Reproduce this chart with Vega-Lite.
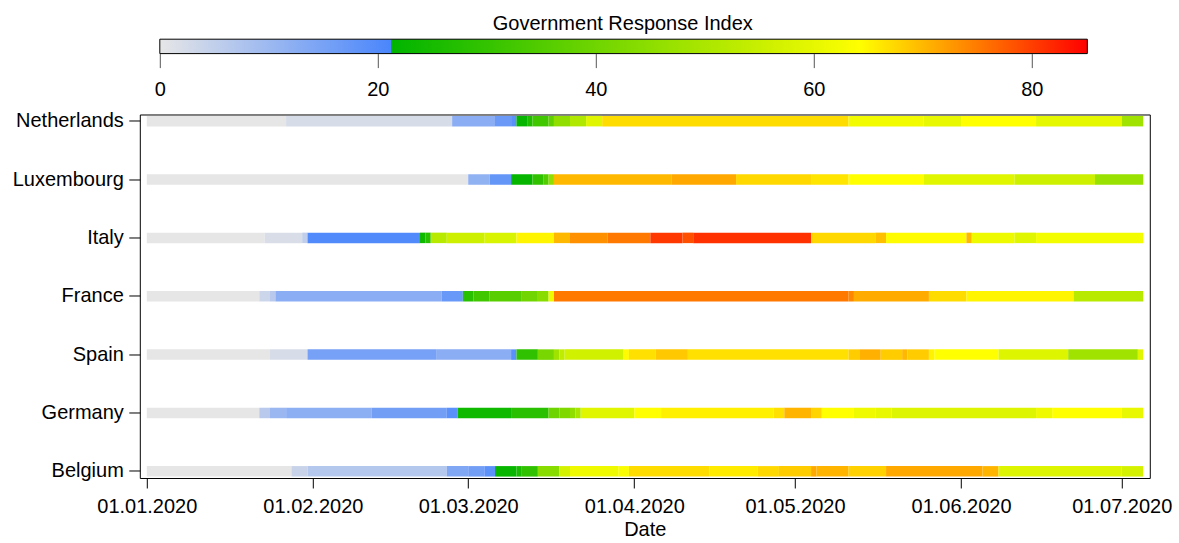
{
  "$schema": "https://vega.github.io/schema/vega-lite/v6.json",
  "padding": {"left": 10.8, "top": 13.2, "right": 5, "bottom": 5},
  "bounds": "flush",
  "spacing": 60.3,
  "config": {
    "font": "Liberation Sans",
    "view": {"stroke": "black", "strokeWidth": 1},
    "axis": {"labelColor": "black", "titleColor": "black", "tickColor": "black", "grid": false, "domain": false}
  },
  "vconcat": [
    {
      "width": 1010,
      "height": 14.4,
      "view": {"stroke": null},
      "title": {
        "text": "Government Response Index",
        "fontSize": 20,
        "fontWeight": "normal",
        "color": "black",
        "anchor": "middle",
        "dx": -22,
        "offset": 4.8
      },
      "data": {"values": [{"lo": 0, "hi": 85.1}]},
      "mark": {
        "type": "rect",
        "stroke": "black",
        "strokeWidth": 1,
        "fill": {
          "gradient": "linear",
          "x1": 0, "y1": 0, "x2": 1, "y2": 0,
          "stops": [
            {"offset": 0, "color": "#e6e6e6"},
            {"offset": 0.2491, "color": "#4a86fc"},
            {"offset": 0.2491, "color": "#00b400"},
            {"offset": 0.7544, "color": "#ffff00"},
            {"offset": 1, "color": "#ff0000"}
          ]
        }
      },
      "encoding": {
        "x": {
          "field": "lo",
          "type": "quantitative",
          "scale": {"domain": [-1.835, 90.83], "nice": false, "zero": false},
          "axis": {
            "title": null,
            "values": [0, 20, 40, 60, 80],
            "tickSize": 14,
            "tickColor": "#555555",
            "labelPadding": 11.8,
            "labelFontSize": 20,
            "labelFlush": false,
            "labelOverlap": false
          }
        },
        "x2": {"field": "hi"}
      }
    },
    {
      "width": 1010,
      "height": 363.5,
      "data": {
        "format": {"parse": {"s": "utc:'%Y-%m-%d'", "e": "utc:'%Y-%m-%d'"}},
        "values": [
          {"c": "Netherlands", "s": "2020-01-01", "e": "2020-01-27", "v": 0},
          {"c": "Netherlands", "s": "2020-01-27", "e": "2020-02-27", "v": 2.2},
          {"c": "Netherlands", "s": "2020-02-27", "e": "2020-03-06", "v": 12.5},
          {"c": "Netherlands", "s": "2020-03-06", "e": "2020-03-09", "v": 16.9},
          {"c": "Netherlands", "s": "2020-03-09", "e": "2020-03-10", "v": 19},
          {"c": "Netherlands", "s": "2020-03-10", "e": "2020-03-12", "v": 22},
          {"c": "Netherlands", "s": "2020-03-12", "e": "2020-03-13", "v": 26.6},
          {"c": "Netherlands", "s": "2020-03-13", "e": "2020-03-16", "v": 32},
          {"c": "Netherlands", "s": "2020-03-16", "e": "2020-03-17", "v": 37.4},
          {"c": "Netherlands", "s": "2020-03-17", "e": "2020-03-20", "v": 45.5},
          {"c": "Netherlands", "s": "2020-03-20", "e": "2020-03-23", "v": 50.9},
          {"c": "Netherlands", "s": "2020-03-23", "e": "2020-03-26", "v": 59},
          {"c": "Netherlands", "s": "2020-03-26", "e": "2020-05-11", "v": 67.1},
          {"c": "Netherlands", "s": "2020-05-11", "e": "2020-05-25", "v": 62},
          {"c": "Netherlands", "s": "2020-05-25", "e": "2020-06-01", "v": 60.3},
          {"c": "Netherlands", "s": "2020-06-01", "e": "2020-06-15", "v": 64.2},
          {"c": "Netherlands", "s": "2020-06-15", "e": "2020-07-01", "v": 60},
          {"c": "Netherlands", "s": "2020-07-01", "e": "2020-07-05", "v": 48.2},

          {"c": "Luxembourg", "s": "2020-01-01", "e": "2020-03-01", "v": 0},
          {"c": "Luxembourg", "s": "2020-03-01", "e": "2020-03-05", "v": 11.7},
          {"c": "Luxembourg", "s": "2020-03-05", "e": "2020-03-09", "v": 17.7},
          {"c": "Luxembourg", "s": "2020-03-09", "e": "2020-03-13", "v": 22},
          {"c": "Luxembourg", "s": "2020-03-13", "e": "2020-03-15", "v": 29.3},
          {"c": "Luxembourg", "s": "2020-03-15", "e": "2020-03-16", "v": 34.7},
          {"c": "Luxembourg", "s": "2020-03-16", "e": "2020-03-17", "v": 45.5},
          {"c": "Luxembourg", "s": "2020-03-17", "e": "2020-04-08", "v": 70},
          {"c": "Luxembourg", "s": "2020-04-08", "e": "2020-04-20", "v": 71.3},
          {"c": "Luxembourg", "s": "2020-04-20", "e": "2020-05-04", "v": 67.4},
          {"c": "Luxembourg", "s": "2020-05-04", "e": "2020-05-11", "v": 66.3},
          {"c": "Luxembourg", "s": "2020-05-11", "e": "2020-05-25", "v": 64.2},
          {"c": "Luxembourg", "s": "2020-05-25", "e": "2020-06-11", "v": 59},
          {"c": "Luxembourg", "s": "2020-06-11", "e": "2020-06-26", "v": 55.6},
          {"c": "Luxembourg", "s": "2020-06-26", "e": "2020-07-05", "v": 47},

          {"c": "Italy", "s": "2020-01-01", "e": "2020-01-23", "v": 0},
          {"c": "Italy", "s": "2020-01-23", "e": "2020-01-30", "v": 1.9},
          {"c": "Italy", "s": "2020-01-30", "e": "2020-01-31", "v": 5.2},
          {"c": "Italy", "s": "2020-01-31", "e": "2020-02-21", "v": 20.4},
          {"c": "Italy", "s": "2020-02-21", "e": "2020-02-22", "v": 23.8},
          {"c": "Italy", "s": "2020-02-22", "e": "2020-02-23", "v": 28},
          {"c": "Italy", "s": "2020-02-23", "e": "2020-02-26", "v": 52.3},
          {"c": "Italy", "s": "2020-02-26", "e": "2020-03-04", "v": 55.6},
          {"c": "Italy", "s": "2020-03-04", "e": "2020-03-10", "v": 57.7},
          {"c": "Italy", "s": "2020-03-10", "e": "2020-03-17", "v": 65},
          {"c": "Italy", "s": "2020-03-17", "e": "2020-03-20", "v": 70},
          {"c": "Italy", "s": "2020-03-20", "e": "2020-03-27", "v": 73.3},
          {"c": "Italy", "s": "2020-03-27", "e": "2020-04-04", "v": 75.3},
          {"c": "Italy", "s": "2020-04-04", "e": "2020-04-10", "v": 80.5},
          {"c": "Italy", "s": "2020-04-10", "e": "2020-04-12", "v": 78.6},
          {"c": "Italy", "s": "2020-04-12", "e": "2020-05-04", "v": 81.1},
          {"c": "Italy", "s": "2020-05-04", "e": "2020-05-16", "v": 67.4},
          {"c": "Italy", "s": "2020-05-16", "e": "2020-05-18", "v": 69.4},
          {"c": "Italy", "s": "2020-05-18", "e": "2020-06-02", "v": 64.5},
          {"c": "Italy", "s": "2020-06-02", "e": "2020-06-03", "v": 70},
          {"c": "Italy", "s": "2020-06-03", "e": "2020-06-11", "v": 61.3},
          {"c": "Italy", "s": "2020-06-11", "e": "2020-06-15", "v": 59},
          {"c": "Italy", "s": "2020-06-15", "e": "2020-07-05", "v": 62.4},

          {"c": "France", "s": "2020-01-01", "e": "2020-01-22", "v": 0},
          {"c": "France", "s": "2020-01-22", "e": "2020-01-24", "v": 3.5},
          {"c": "France", "s": "2020-01-24", "e": "2020-01-25", "v": 6.3},
          {"c": "France", "s": "2020-01-25", "e": "2020-02-25", "v": 12.5},
          {"c": "France", "s": "2020-02-25", "e": "2020-02-29", "v": 17.1},
          {"c": "France", "s": "2020-02-29", "e": "2020-03-02", "v": 28},
          {"c": "France", "s": "2020-03-02", "e": "2020-03-05", "v": 32},
          {"c": "France", "s": "2020-03-05", "e": "2020-03-11", "v": 36},
          {"c": "France", "s": "2020-03-11", "e": "2020-03-14", "v": 40.1},
          {"c": "France", "s": "2020-03-14", "e": "2020-03-16", "v": 44.1},
          {"c": "France", "s": "2020-03-16", "e": "2020-03-17", "v": 61.5},
          {"c": "France", "s": "2020-03-17", "e": "2020-05-11", "v": 75.3},
          {"c": "France", "s": "2020-05-11", "e": "2020-05-12", "v": 74},
          {"c": "France", "s": "2020-05-12", "e": "2020-05-26", "v": 71.1},
          {"c": "France", "s": "2020-05-26", "e": "2020-06-02", "v": 67.1},
          {"c": "France", "s": "2020-06-02", "e": "2020-06-22", "v": 65},
          {"c": "France", "s": "2020-06-22", "e": "2020-07-05", "v": 52.3},

          {"c": "Spain", "s": "2020-01-01", "e": "2020-01-24", "v": 0},
          {"c": "Spain", "s": "2020-01-24", "e": "2020-01-31", "v": 2.2},
          {"c": "Spain", "s": "2020-01-31", "e": "2020-02-24", "v": 15.2},
          {"c": "Spain", "s": "2020-02-24", "e": "2020-03-09", "v": 12.5},
          {"c": "Spain", "s": "2020-03-09", "e": "2020-03-10", "v": 19},
          {"c": "Spain", "s": "2020-03-10", "e": "2020-03-14", "v": 29.3},
          {"c": "Spain", "s": "2020-03-14", "e": "2020-03-17", "v": 41.4},
          {"c": "Spain", "s": "2020-03-17", "e": "2020-03-18", "v": 48.2},
          {"c": "Spain", "s": "2020-03-18", "e": "2020-03-19", "v": 53.5},
          {"c": "Spain", "s": "2020-03-19", "e": "2020-03-30", "v": 56.3},
          {"c": "Spain", "s": "2020-03-30", "e": "2020-03-31", "v": 64.5},
          {"c": "Spain", "s": "2020-03-31", "e": "2020-04-05", "v": 66.7},
          {"c": "Spain", "s": "2020-04-05", "e": "2020-04-11", "v": 68.7},
          {"c": "Spain", "s": "2020-04-11", "e": "2020-05-11", "v": 66.7},
          {"c": "Spain", "s": "2020-05-11", "e": "2020-05-13", "v": 68.4},
          {"c": "Spain", "s": "2020-05-13", "e": "2020-05-17", "v": 70.7},
          {"c": "Spain", "s": "2020-05-17", "e": "2020-05-21", "v": 68.4},
          {"c": "Spain", "s": "2020-05-21", "e": "2020-05-22", "v": 70},
          {"c": "Spain", "s": "2020-05-22", "e": "2020-05-26", "v": 68.4},
          {"c": "Spain", "s": "2020-05-26", "e": "2020-05-27", "v": 65.2},
          {"c": "Spain", "s": "2020-05-27", "e": "2020-06-08", "v": 64.2},
          {"c": "Spain", "s": "2020-06-08", "e": "2020-06-21", "v": 58.6},
          {"c": "Spain", "s": "2020-06-21", "e": "2020-07-04", "v": 48.2},
          {"c": "Spain", "s": "2020-07-04", "e": "2020-07-05", "v": 59},

          {"c": "Germany", "s": "2020-01-01", "e": "2020-01-22", "v": 0},
          {"c": "Germany", "s": "2020-01-22", "e": "2020-01-24", "v": 6.3},
          {"c": "Germany", "s": "2020-01-24", "e": "2020-01-27", "v": 10.3},
          {"c": "Germany", "s": "2020-01-27", "e": "2020-02-12", "v": 12.2},
          {"c": "Germany", "s": "2020-02-12", "e": "2020-02-26", "v": 15.8},
          {"c": "Germany", "s": "2020-02-26", "e": "2020-02-28", "v": 19},
          {"c": "Germany", "s": "2020-02-28", "e": "2020-03-09", "v": 23.8},
          {"c": "Germany", "s": "2020-03-09", "e": "2020-03-16", "v": 28},
          {"c": "Germany", "s": "2020-03-16", "e": "2020-03-18", "v": 39.5},
          {"c": "Germany", "s": "2020-03-18", "e": "2020-03-20", "v": 42.7},
          {"c": "Germany", "s": "2020-03-20", "e": "2020-03-21", "v": 45.5},
          {"c": "Germany", "s": "2020-03-21", "e": "2020-03-22", "v": 49.6},
          {"c": "Germany", "s": "2020-03-22", "e": "2020-04-01", "v": 59},
          {"c": "Germany", "s": "2020-04-01", "e": "2020-04-06", "v": 64.2},
          {"c": "Germany", "s": "2020-04-06", "e": "2020-04-27", "v": 65.4},
          {"c": "Germany", "s": "2020-04-27", "e": "2020-04-29", "v": 66.7},
          {"c": "Germany", "s": "2020-04-29", "e": "2020-05-04", "v": 70.3},
          {"c": "Germany", "s": "2020-05-04", "e": "2020-05-06", "v": 67.7},
          {"c": "Germany", "s": "2020-05-06", "e": "2020-05-12", "v": 64.2},
          {"c": "Germany", "s": "2020-05-12", "e": "2020-05-16", "v": 61.5},
          {"c": "Germany", "s": "2020-05-16", "e": "2020-05-19", "v": 60.3},
          {"c": "Germany", "s": "2020-05-19", "e": "2020-06-15", "v": 58.4},
          {"c": "Germany", "s": "2020-06-15", "e": "2020-06-18", "v": 61.5},
          {"c": "Germany", "s": "2020-06-18", "e": "2020-07-01", "v": 64.2},
          {"c": "Germany", "s": "2020-07-01", "e": "2020-07-05", "v": 60.3},

          {"c": "Belgium", "s": "2020-01-01", "e": "2020-01-28", "v": 0},
          {"c": "Belgium", "s": "2020-01-28", "e": "2020-01-31", "v": 4.1},
          {"c": "Belgium", "s": "2020-01-31", "e": "2020-02-26", "v": 6.8},
          {"c": "Belgium", "s": "2020-02-26", "e": "2020-03-01", "v": 13.9},
          {"c": "Belgium", "s": "2020-03-01", "e": "2020-03-04", "v": 15.8},
          {"c": "Belgium", "s": "2020-03-04", "e": "2020-03-06", "v": 18.8},
          {"c": "Belgium", "s": "2020-03-06", "e": "2020-03-10", "v": 22.5},
          {"c": "Belgium", "s": "2020-03-10", "e": "2020-03-11", "v": 25.2},
          {"c": "Belgium", "s": "2020-03-11", "e": "2020-03-14", "v": 29.3},
          {"c": "Belgium", "s": "2020-03-14", "e": "2020-03-18", "v": 44.1},
          {"c": "Belgium", "s": "2020-03-18", "e": "2020-03-20", "v": 56.9},
          {"c": "Belgium", "s": "2020-03-20", "e": "2020-03-29", "v": 61.5},
          {"c": "Belgium", "s": "2020-03-29", "e": "2020-03-31", "v": 63.2},
          {"c": "Belgium", "s": "2020-03-31", "e": "2020-04-15", "v": 67.1},
          {"c": "Belgium", "s": "2020-04-15", "e": "2020-04-24", "v": 65.8},
          {"c": "Belgium", "s": "2020-04-24", "e": "2020-04-28", "v": 67.4},
          {"c": "Belgium", "s": "2020-04-28", "e": "2020-05-04", "v": 68.4},
          {"c": "Belgium", "s": "2020-05-04", "e": "2020-05-05", "v": 71.3},
          {"c": "Belgium", "s": "2020-05-05", "e": "2020-05-11", "v": 70.3},
          {"c": "Belgium", "s": "2020-05-11", "e": "2020-05-18", "v": 68},
          {"c": "Belgium", "s": "2020-05-18", "e": "2020-06-05", "v": 71.3},
          {"c": "Belgium", "s": "2020-06-05", "e": "2020-06-08", "v": 70.3},
          {"c": "Belgium", "s": "2020-06-08", "e": "2020-07-01", "v": 58.4},
          {"c": "Belgium", "s": "2020-07-01", "e": "2020-07-05", "v": 56.9}
        ]
      },
      "mark": {"type": "bar"},
      "encoding": {
        "y": {
          "field": "c",
          "type": "nominal",
          "sort": ["Netherlands", "Luxembourg", "Italy", "France", "Spain", "Germany", "Belgium"],
          "scale": {"paddingInner": 0.82, "paddingOuter": 0.024},
          "axis": {"title": null, "labelFontSize": 20, "tickSize": 11, "labelPadding": 5.5}
        },
        "x": {
          "field": "s",
          "type": "temporal",
          "scale": {
            "type": "utc",
            "domain": [
              {"year": 2019, "month": 12, "date": 30, "hours": 16, "minutes": 38, "utc": true},
              {"year": 2020, "month": 7, "date": 6, "hours": 5, "minutes": 31, "utc": true}
            ]
          },
          "axis": {
            "title": "Date",
            "values": [
              {"year": 2020, "month": 1, "date": 1, "utc": true},
              {"year": 2020, "month": 2, "date": 1, "utc": true},
              {"year": 2020, "month": 3, "date": 1, "utc": true},
              {"year": 2020, "month": 4, "date": 1, "utc": true},
              {"year": 2020, "month": 5, "date": 1, "utc": true},
              {"year": 2020, "month": 6, "date": 1, "utc": true},
              {"year": 2020, "month": 7, "date": 1, "utc": true}
            ],
            "labelExpr": "utcFormat(datum.value, '%d.%m.%Y')",
            "labelFontSize": 20,
            "titleFontSize": 20,
            "titleFontWeight": "normal",
            "tickSize": 10,
            "labelPadding": 8.5,
            "titlePadding": 3,
            "labelFlush": false,
            "labelOverlap": false
          }
        },
        "x2": {"field": "e"},
        "color": {
          "field": "v",
          "type": "quantitative",
          "scale": {
            "domain": [0, 21.2, 21.2001, 64.2, 85.1],
            "range": ["#e6e6e6", "#4a86fc", "#00b400", "#ffff00", "#ff0000"],
            "interpolate": "rgb",
            "nice": false,
            "zero": false
          },
          "legend": null
        }
      }
    }
  ]
}
